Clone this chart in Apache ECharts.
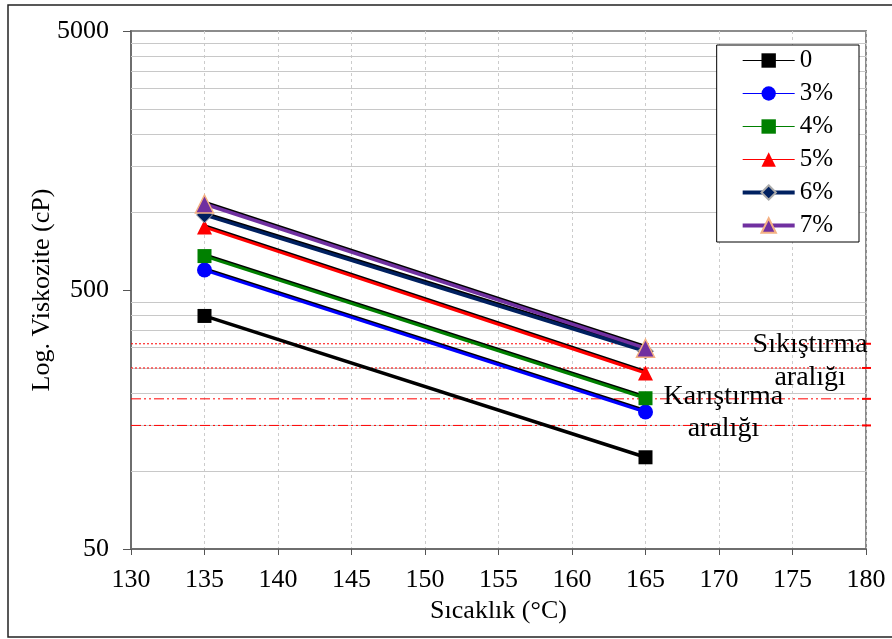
<!DOCTYPE html>
<html><head><meta charset="utf-8">
<script src="https://cdn.jsdelivr.net/npm/echarts@6/dist/echarts.min.js"></script>
<style>html,body{margin:0;padding:0;background:#fff}#c{width:892px;height:639px}</style>
</head><body><div id="c"></div>
<script>
var temps = [135, 165];
var names = ['0', '3%', '4%', '5%', '6%', '7%'];
var v0 = [397, 113];
var v3 = [597, 169];
var v4 = [676, 191];
var v5 = [875, 239];
var v6 = [975, 290];
var v7 = [1074, 298];
var xTicks = [130, 135, 140, 145, 150, 155, 160, 165, 170, 175, 180];
var yLabels = [50, 500, 5000];
var yGrid = [100, 150, 200, 250, 300, 350, 400, 450, 1000, 1500, 2000, 2500, 3000, 3500, 4000, 4500];
var compactRange = [250, 310];
var mixRange = [150, 190];
var xSpan = [130, 180];

var FONT = '"Liberation Serif", "Times New Roman", serif';
var FS = 26;
function pts(v) { return temps.map(function (t, i) { return [t, v[i]]; }); }

var styles = [
  {c: '#000000', sym: 'rect', size: 14, w: 3.5, bc: '#000', bw: 0, lw: 1},
  {c: '#0000FF', sym: 'circle', size: 15, w: 3, bc: '#0000FF', bw: 0, lw: 1},
  {c: '#008000', sym: 'rect', size: 14, w: 3, bc: '#008000', bw: 0, lw: 1},
  {c: '#FF0000', sym: 'triangle', size: 15, w: 3, bc: '#FF0000', bw: 0, lw: 1},
  {c: '#002060', sym: 'diamond', size: 16, w: 3.5, bc: '#aaaaaa', bw: 1, lw: 4},
  {c: '#7030A0', sym: 'triangle', size: 18, w: 3.5, bc: '#F4B183', bw: 1.5, lw: 4}
];
var vals = [v0, v3, v4, v5, v6, v7];

var series = vals.map(function (v, i) {
  var s = styles[i];
  return {
    name: names[i], type: 'line', data: pts(v), symbol: s.sym, symbolSize: s.size,
    itemStyle: {color: s.c, borderColor: s.bc, borderWidth: s.bw},
    lineStyle: {color: s.c, width: s.w, shadowColor: '#000', shadowBlur: 0, shadowOffsetY: i === 0 ? 0 : -1.5},
    zlevel: 1, z: 5 + i, animation: false
  };
});

series.unshift({
  type: 'line', data: [], silent: true, animation: false, color: '#c8c8c8', zlevel: 0, z: 1,
  markLine: {silent: true, symbol: 'none', label: {show: false}, animation: false,
    lineStyle: {color: '#c8c8c8', type: 'solid', width: 1},
    data: yGrid.map(function (g) { return {yAxis: g}; })}
});
function rangeLine(v, type) {
  return {
    type: 'line', silent: true, animation: false, symbol: 'none', zlevel: 1, z: 2,
    data: xSpan.map(function (x) { return [x, v]; }),
    lineStyle: {color: '#FF0000', width: 1, type: type},
    itemStyle: {color: '#FF0000'}
  };
}
compactRange.forEach(function (r) { series.push(rangeLine(r, [2, 2])); });
mixRange.forEach(function (r) { series.push(rangeLine(r, [10, 3, 2, 3, 2, 3])); });

var chart = echarts.init(document.getElementById('c'), null, {renderer: 'canvas'});
var option = {
  backgroundColor: '#fff',
  animation: false,
  textStyle: {fontFamily: FONT},
  grid: {left: 131, top: 31, right: 26, bottom: 90, show: true, borderColor: '#8c8c8c', borderWidth: 2, backgroundColor: 'transparent'},
  xAxis: {
    type: 'value', min: 130, max: 180, interval: 5,
    name: 'Sıcaklık (°C)', nameLocation: 'middle', nameGap: 48,
    nameTextStyle: {fontFamily: FONT, fontSize: FS, color: '#000'},
    axisLine: {show: true, lineStyle: {color: '#6e6e6e', width: 2}},
    axisTick: {show: true, inside: false, length: 6, lineStyle: {color: '#555', width: 1}},
    axisLabel: {fontFamily: FONT, fontSize: FS, color: '#000', margin: 18},
    splitLine: {show: true, lineStyle: {color: '#cccccc', type: [3, 3], width: 1}}
  },
  yAxis: {
    type: 'log', logBase: 10, min: 50, max: 5000,
    name: 'Log. Viskozite (cP)', nameLocation: 'middle', nameGap: 76, nameRotate: 90, nameMoveOverlap: false,
    nameTextStyle: {fontFamily: FONT, fontSize: FS, color: '#000'},
    axisLine: {show: true, lineStyle: {color: '#6e6e6e', width: 2}},
    axisTick: {show: true, inside: false, length: 8, customValues: yLabels, lineStyle: {color: '#555', width: 1}},
    axisLabel: {fontFamily: FONT, fontSize: FS, color: '#000', margin: 22, customValues: yLabels,
      formatter: function (v) { return String(v); }},
    splitLine: {show: false}
  },
  legend: {
    right: 33, top: 45, orient: 'vertical', zlevel: 1, z: 20,
    backgroundColor: '#fff', borderColor: '#000', borderWidth: 1,
    padding: [3, 26, 4, 24], itemGap: 8, itemWidth: 52, itemHeight: 18,
    textStyle: {fontFamily: FONT, fontSize: 25, color: '#000', lineHeight: 25},
    data: names.map(function (n, i) {
      return {name: n, lineStyle: {width: styles[i].lw, color: styles[i].c, shadowColor: 'rgba(0,0,0,0)', shadowOffsetY: 0}};
    })
  },
  series: series
};
chart.setOption(option);

// range end marks and annotation texts, positioned with the chart's own scales
var gEls = [];
compactRange.concat(mixRange).forEach(function (r) {
  var p = chart.convertToPixel({gridIndex: 0}, [180, r]);
  gEls.push({type: 'line', zlevel: 1, shape: {x1: p[0] - 4, y1: p[1], x2: p[0] + 5, y2: p[1]}, style: {stroke: '#FF0000', lineWidth: 2}, z: 10});
});
var pc = chart.convertToPixel({gridIndex: 0}, [176.2, compactRange[1]]);
var pm = chart.convertToPixel({gridIndex: 0}, [170.3, mixRange[1]]);
gEls.push({type: 'text', zlevel: 1, x: pc[0], y: pc[1] - 16, style: {text: 'Sıkıştırma\naralığı', font: '28px ' + FONT, fill: '#000', align: 'center', verticalAlign: 'top', lineHeight: 33}, z: 20});
gEls.push({type: 'text', zlevel: 1, x: pm[0], y: pm[1] - 18, style: {text: 'Karıştırma\naralığı', font: '28px ' + FONT, fill: '#000', align: 'center', verticalAlign: 'top', lineHeight: 32}, z: 20});
gEls.push({type: 'rect', shape: {x: 8, y: 5, width: 900, height: 632}, style: {fill: 'none', stroke: '#222', lineWidth: 1.5}, z: 0});
chart.setOption({graphic: gEls});
</script></body></html>
